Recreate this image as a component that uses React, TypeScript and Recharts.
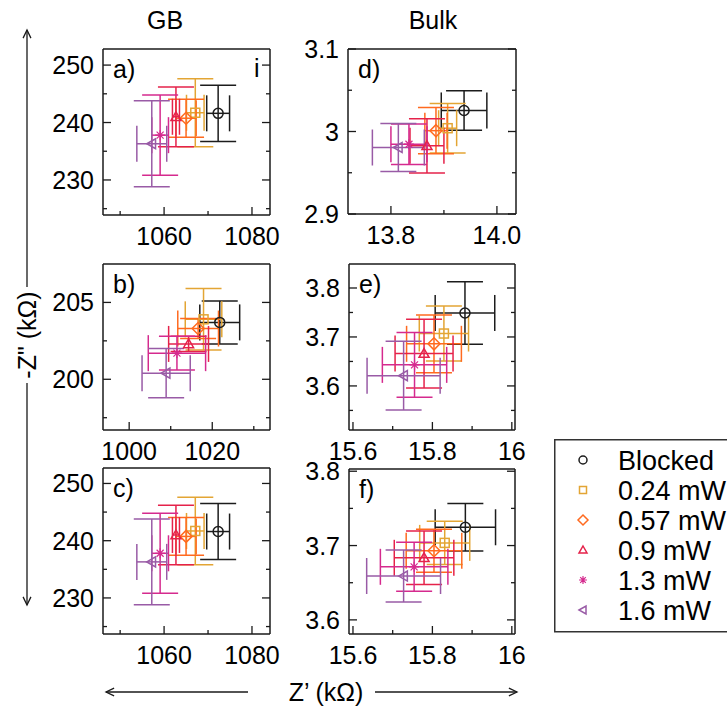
import React from 'react';
import { ScatterChart, Scatter, XAxis, YAxis, ErrorBar } from 'recharts';

const FONT = '"Liberation Sans", Arial, Helvetica, sans-serif';
const INK = '#1a1a1a';

const seriesNames = ['Blocked', '0.24 mW', '0.57 mW', '0.9 mW', '1.3 mW', '1.6 mW'];
const seriesColors = ['#1c1c1c', '#E3A534', '#FF6A1F', '#E5224A', '#D52A8E', '#995BA6'];
const seriesShapes = ['circle', 'square', 'diamond', 'triangle', 'star', 'left'];

// GB, panels a) and c) show the same values
const gbX = [1072.3, 1067.1, 1065.0, 1062.7, 1059.1, 1057.2];
const gbXErr = [2.6, 2.0, 2.3, 0.8, 1.9, 3.4];
const gbY = [241.6, 241.7, 240.75, 241.0, 237.8, 236.3];
const gbYErr = [4.9, 5.9, 3.3, 5.2, 7.0, 7.5];

// GB, panel b)
const bX = [1021.8, 1017.9, 1016.6, 1014.3, 1011.5, 1008.9];
const bXErr = [4.8, 4.4, 4.9, 4.8, 6.9, 5.8];
const bY = [203.7, 203.9, 203.3, 202.3, 201.7, 200.4];
const bYErr = [1.4, 2.0, 0.65, 0.5, 1.1, 1.6];

// Bulk, panel d)
const dX = [13.938, 13.907, 13.885, 13.868, 13.834, 13.814];
const dXErr = [0.043, 0.017, 0.021, 0.032, 0.034, 0.049];
const dY = [3.0255, 3.004, 3.001, 2.9826, 2.9846, 2.9806];
const dYErr = [0.024, 0.03, 0.028, 0.033, 0.0245, 0.029];

// Bulk, panel e)
const eX = [15.882, 15.829, 15.804, 15.779, 15.755, 15.7275];
const eXErr = [0.075, 0.062, 0.069, 0.073, 0.081, 0.092];
const eY = [3.749, 3.707, 3.686, 3.666, 3.643, 3.621];
const eYErr = [0.064, 0.056, 0.059, 0.07, 0.066, 0.07];

// Bulk, panel f)
const fX = [15.883, 15.831, 15.804, 15.779, 15.754, 15.7275];
const fXErr = [0.076, 0.063, 0.07, 0.075, 0.085, 0.093];
const fY = [3.7246, 3.7036, 3.693, 3.6835, 3.6714, 3.659];
const fYErr = [0.032, 0.029, 0.029, 0.036, 0.033, 0.035];

// tick values (major get a label, minor only a short mark)
const gbXMajor = [1060, 1080];
const gbXMinor = [1050, 1070];
const gbYMajor = [230, 240, 250];
const gbYMinor = [225, 235, 245];
const bXMajor = [1000, 1020];
const bXMinor = [1010, 1030];
const bYMajor = [200, 205];
const bYMinor = [197.5, 202.5];
const dXMajor = [13.8, 14.0];
const dXMinor = [13.9];
const dYMajor = [2.9, 3, 3.1];
const dYMinor = [2.95, 3.05];
const bulkXMajor = [15.6, 15.8, 16];
const bulkXMinor = [15.7, 15.9];
const eYMajor = [3.6, 3.7, 3.8];
const eYMinor = [3.55, 3.65, 3.75];
const fYMajor = [3.6, 3.7, 3.8];
const fYMinor = [3.65, 3.75];

const buildRows = (xs: number[], xe: number[], ys: number[], ye: number[]) =>
  xs.map((x, i) => ({ x, y: ys[i], ex: xe[i], ey: ye[i] }));

const panels = [
  { id: 'a', label: 'a)', left: 103, top: 49, w: 167, h: 166, xDomain: [1046.1, 1084.1], yDomain: [223.9, 252.8],
    xMajor: gbXMajor, xMinor: gbXMinor, yMajor: gbYMajor, yMinor: gbYMinor, rows: buildRows(gbX, gbXErr, gbY, gbYErr) },
  { id: 'b', label: 'b)', left: 103, top: 264, w: 167, h: 166, xDomain: [993.7, 1033.9], yDomain: [196.7, 207.5],
    xMajor: bXMajor, xMinor: bXMinor, yMajor: bYMajor, yMinor: bYMinor, rows: buildRows(bX, bXErr, bY, bYErr) },
  { id: 'c', label: 'c)', left: 103, top: 468, w: 167, h: 166, xDomain: [1046.1, 1084.1], yDomain: [223.7, 252.7],
    xMajor: gbXMajor, xMinor: gbXMinor, yMajor: gbYMajor, yMinor: gbYMinor, rows: buildRows(gbX, gbXErr, gbY, gbYErr) },
  { id: 'd', label: 'd)', left: 348, top: 49, w: 168, h: 165, xDomain: [13.719, 14.036], yDomain: [2.9, 3.1],
    xMajor: dXMajor, xMinor: dXMinor, yMajor: dYMajor, yMinor: dYMinor, rows: buildRows(dX, dXErr, dY, dYErr),
    fmtX: (v: number) => v.toFixed(1) },
  { id: 'e', label: 'e)', left: 349, top: 264, w: 166, h: 166, xDomain: [15.59, 16.008], yDomain: [3.51, 3.849],
    xMajor: bulkXMajor, xMinor: bulkXMinor, yMajor: eYMajor, yMinor: eYMinor, rows: buildRows(eX, eXErr, eY, eYErr) },
  { id: 'f', label: 'f)', left: 349, top: 469, w: 166, h: 165, xDomain: [15.59, 16.008], yDomain: [3.581, 3.803],
    xMajor: bulkXMajor, xMinor: bulkXMinor, yMajor: fYMajor, yMinor: fYMinor, rows: buildRows(fX, fXErr, fY, fYErr) },
];

const isIn = (v: number, arr: number[]) => arr.some((a) => Math.abs(a - v) < 1e-9);

function Marker({ cx, cy, kind, color, s = 5 }: any) {
  const st = { fill: 'none', stroke: color, strokeWidth: 1.5 };
  switch (kind) {
    case 'circle':
      return <circle cx={cx} cy={cy} r={s} {...st} />;
    case 'square':
      return <rect x={cx - s + 0.5} y={cy - s + 0.5} width={2 * s - 1} height={2 * s - 1} {...st} />;
    case 'diamond':
      return <path d={`M${cx},${cy - s - 1}L${cx + s + 1},${cy}L${cx},${cy + s + 1}L${cx - s - 1},${cy}Z`} {...st} />;
    case 'triangle':
      return <path d={`M${cx},${cy - s}L${cx + s},${cy + s * 0.75}L${cx - s},${cy + s * 0.75}Z`} {...st} />;
    case 'left':
      return <path d={`M${cx - s},${cy}L${cx + s * 0.75},${cy - s}L${cx + s * 0.75},${cy + s}Z`} {...st} />;
    default: {
      const r = s;
      const q = r * 0.7;
      return (
        <path
          d={`M${cx - r},${cy}H${cx + r}M${cx},${cy - r}V${cy + r}M${cx - q},${cy - q}L${cx + q},${cy + q}M${cx - q},${cy + q}L${cx + q},${cy - q}`}
          {...st}
          strokeWidth={1.2}
        />
      );
    }
  }
}

const MAJ = 8;
const MIN = 4;
const PAD_T = 20;
const PAD_R = 22;

function Panel({ p }: { p: any }) {
  const fmtX = p.fmtX || ((v: number) => String(v));
  const xTicks = [...p.xMajor, ...p.xMinor];
  const yTicks = [...p.yMajor, ...p.yMinor];
  const axisLine = { stroke: INK, strokeWidth: 1.5 };

  const bottomTick = (t: any) => {
    const major = isIn(t.payload.value, p.xMajor);
    return (
      <g>
        <line x1={t.x} x2={t.x} y1={t.y} y2={t.y - (major ? MAJ : MIN)} stroke={INK} strokeWidth={1.3} />
        {major && (
          <text x={t.x} y={t.y + 30} textAnchor="middle" fontSize={25} fontFamily={FONT} fill="#000">
            {fmtX(t.payload.value)}
          </text>
        )}
      </g>
    );
  };
  const topTick = (t: any) => {
    const major = isIn(t.payload.value, p.xMajor);
    return <line x1={t.x} x2={t.x} y1={t.y} y2={t.y + (major ? MAJ : MIN)} stroke={INK} strokeWidth={1.3} />;
  };
  const leftTick = (t: any) => {
    const major = isIn(t.payload.value, p.yMajor);
    return (
      <g>
        <line x1={t.x} x2={t.x + (major ? MAJ : MIN)} y1={t.y} y2={t.y} stroke={INK} strokeWidth={1.3} />
        {major && (
          <text x={t.x - 9} y={t.y} dy="0.36em" textAnchor="end" fontSize={25} fontFamily={FONT} fill="#000">
            {String(t.payload.value)}
          </text>
        )}
      </g>
    );
  };
  const rightTick = (t: any) => {
    const major = isIn(t.payload.value, p.yMajor);
    return <line x1={t.x} x2={t.x - (major ? MAJ : MIN)} y1={t.y} y2={t.y} stroke={INK} strokeWidth={1.3} />;
  };

  return (
    <div style={{ position: 'absolute', left: p.left - 70, top: p.top - PAD_T }}>
      <ScatterChart width={p.w + 70 + PAD_R} height={p.h + PAD_T + 40} margin={{ top: PAD_T - 1, right: PAD_R - 1, bottom: 0, left: 0 }}>
        <XAxis xAxisId="b" type="number" dataKey="x" domain={p.xDomain} allowDataOverflow ticks={xTicks} interval={0}
          tickSize={0} tickMargin={0} tickLine={false} axisLine={axisLine} height={40} tick={bottomTick} />
        <XAxis xAxisId="t" orientation="top" type="number" domain={p.xDomain} allowDataOverflow ticks={xTicks} interval={0}
          tickSize={0} tickMargin={0} tickLine={false} axisLine={axisLine} height={1} tick={topTick} />
        <YAxis yAxisId="l" type="number" dataKey="y" domain={p.yDomain} allowDataOverflow ticks={yTicks} interval={0}
          tickSize={0} tickMargin={0} tickLine={false} axisLine={axisLine} width={70} tick={leftTick} />
        <YAxis yAxisId="r" orientation="right" type="number" domain={p.yDomain} allowDataOverflow ticks={yTicks} interval={0}
          tickSize={0} tickMargin={0} tickLine={false} axisLine={axisLine} width={1} tick={rightTick} />
        {p.rows.map((row: any, i: number) => (
          <Scatter
            key={seriesNames[i]}
            name={seriesNames[i]}
            xAxisId="b"
            yAxisId="l"
            data={[row]}
            isAnimationActive={false}
            shape={(s: any) => <Marker cx={s.cx} cy={s.cy} kind={seriesShapes[i]} color={seriesColors[i]} />}
          >
            <ErrorBar dataKey="ex" direction="x" width={18} stroke={seriesColors[i]} strokeWidth={1.5} isAnimationActive={false} />
            <ErrorBar dataKey="ey" direction="y" width={18} stroke={seriesColors[i]} strokeWidth={1.5} isAnimationActive={false} />
          </Scatter>
        ))}
      </ScatterChart>
    </div>
  );
}

function Arrow({ x1, y1, x2, y2 }: any) {
  // arrowhead at (x2, y2)
  const ang = Math.atan2(y2 - y1, x2 - x1);
  const L = 9;
  const sp = 0.45;
  const ax = x2 - L * Math.cos(ang - sp);
  const ay = y2 - L * Math.sin(ang - sp);
  const bx = x2 - L * Math.cos(ang + sp);
  const by = y2 - L * Math.sin(ang + sp);
  return (
    <g stroke={INK} strokeWidth={1.3} fill="none">
      <line x1={x1} y1={y1} x2={x2} y2={y2} />
      <polyline points={`${ax},${ay} ${x2},${y2} ${bx},${by}`} />
    </g>
  );
}

export default function App() {
  return (
    <div style={{ position: 'absolute', left: 0, top: 0, width: 727, height: 708, overflow: 'hidden', background: '#fff' }}>
      <svg width={727} height={708} style={{ position: 'absolute', left: 0, top: 0 }} fontFamily={FONT}>
        <text x={165} y={29} textAnchor="middle" fontSize={25}>GB</text>
        <text x={433} y={29} textAnchor="middle" fontSize={25}>Bulk</text>

        {panels.map((p) => (
          <text key={p.id} x={p.left + 10} y={p.top + 29} fontSize={25}>{p.label}</text>
        ))}
        <text x={254} y={77} fontSize={25}>i</text>

        <text x={27} y={335} fontSize={25} textAnchor="middle" dy="0.35em" transform="rotate(-90 27 335)">-Z" (kΩ)</text>
        <Arrow x1={27} y1={287} x2={27} y2={30} />
        <Arrow x1={27} y1={383} x2={27} y2={605} />

        <text x={326} y={692} fontSize={25} textAnchor="middle" dy="0.35em">Z’ (kΩ)</text>
        <Arrow x1={248} y1={692} x2={106} y2={692} />
        <Arrow x1={375} y1={692} x2={517} y2={692} />

        <rect x={554.75} y={439.75} width={200} height={192} fill="none" stroke="#333" strokeWidth={1.5} />
        {seriesNames.map((n, i) => (
          <g key={n}>
            <Marker cx={583} cy={460 + i * 30} kind={seriesShapes[i]} color={seriesColors[i]} s={4} />
            <text x={618} y={470 + i * 30} fontSize={27}>{n}</text>
          </g>
        ))}
      </svg>
      {panels.map((p) => (
        <Panel key={p.id} p={p} />
      ))}
    </div>
  );
}
